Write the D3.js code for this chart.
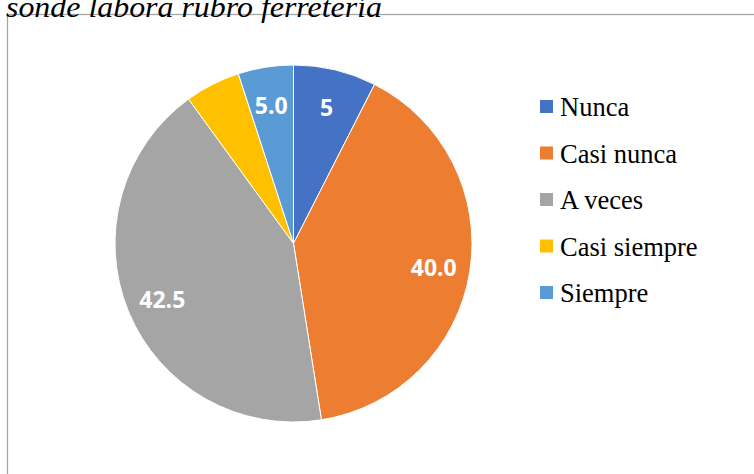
<!DOCTYPE html>
<html>
<head>
<meta charset="utf-8">
<script src="https://cdn.jsdelivr.net/npm/d3@7"></script>
<style>
  html, body { margin: 0; padding: 0; background: #fff; overflow: hidden; }
</style>
</head>
<body>
<svg id="chart" width="754" height="474"></svg>
<script>
// data
var categories = ["Nunca", "Casi nunca", "A veces", "Casi siempre", "Siempre"];
var values = [7.5, 40.0, 42.5, 5.0, 5.0];
var labelTexts = ["5", "40.0", "42.5", "", "5.0"];
var colors = ["#4472C4", "#ED7D31", "#A5A5A5", "#FFC000", "#5B9BD5"];
var titleText = "sonde labora rubro ferretería";

var svg = d3.select("#chart");

// chart frame
svg.append("rect")
    .attr("x", 7.5)
    .attr("y", 14.5)
    .attr("width", 800)
    .attr("height", 600)
    .attr("fill", "none")
    .attr("stroke", "#a6a6a6")
    .attr("stroke-width", 1.3);

var cx = 293.5, cy = 243.5, radius = 178.5;

var pie = d3.pie().sort(null).value(function (d) { return d; });
var arcs = pie(values);
var arc = d3.arc().innerRadius(0).outerRadius(radius);
var labelArc = d3.arc().innerRadius(142).outerRadius(142);

var g = svg.append("g").attr("transform", "translate(" + cx + "," + cy + ")");

g.selectAll("path")
    .data(arcs)
    .enter()
    .append("path")
    .attr("d", arc)
    .attr("fill", function (d, i) { return colors[i]; })
    .attr("stroke", "#fff")
    .attr("stroke-width", 1);

g.selectAll("text.lbl")
    .data(arcs)
    .enter()
    .append("text")
    .attr("class", "lbl")
    .attr("transform", function (d) { return "translate(" + labelArc.centroid(d) + ")"; })
    .attr("text-anchor", "middle")
    .attr("dy", "0.45em")
    .style("font-family", "'Open Sans', Lato, sans-serif")
    .style("font-weight", "bold")
    .style("font-size", "23px")
    .style("fill", "#fff")
    .text(function (d, i) { return labelTexts[i]; });

// legend
var ly = d3.scalePoint().domain(categories).range([106.5, 292.5]);
var legend = svg.append("g").selectAll("g")
    .data(categories)
    .enter()
    .append("g")
    .attr("transform", function (d) { return "translate(540," + ly(d) + ")"; });

legend.append("rect")
    .attr("x", 0)
    .attr("y", -6.5)
    .attr("width", 13)
    .attr("height", 13)
    .attr("fill", function (d, i) { return colors[i]; });

legend.append("text")
    .attr("x", 20)
    .attr("y", 9.5)
    .style("font-family", "'Liberation Serif', 'Times New Roman', serif")
    .style("font-size", "26.5px")
    .style("fill", "#000")
    .text(function (d) { return d; });

// title (cut off at the top in the original)
svg.append("text")
    .attr("x", 6)
    .attr("y", 17)
    .attr("textLength", 376)
    .attr("lengthAdjust", "spacingAndGlyphs")
    .style("font-family", "'Liberation Serif', 'Times New Roman', serif")
    .style("font-style", "italic")
    .style("font-size", "30px")
    .style("fill", "#000")
    .text(titleText);
</script>
</body>
</html>
